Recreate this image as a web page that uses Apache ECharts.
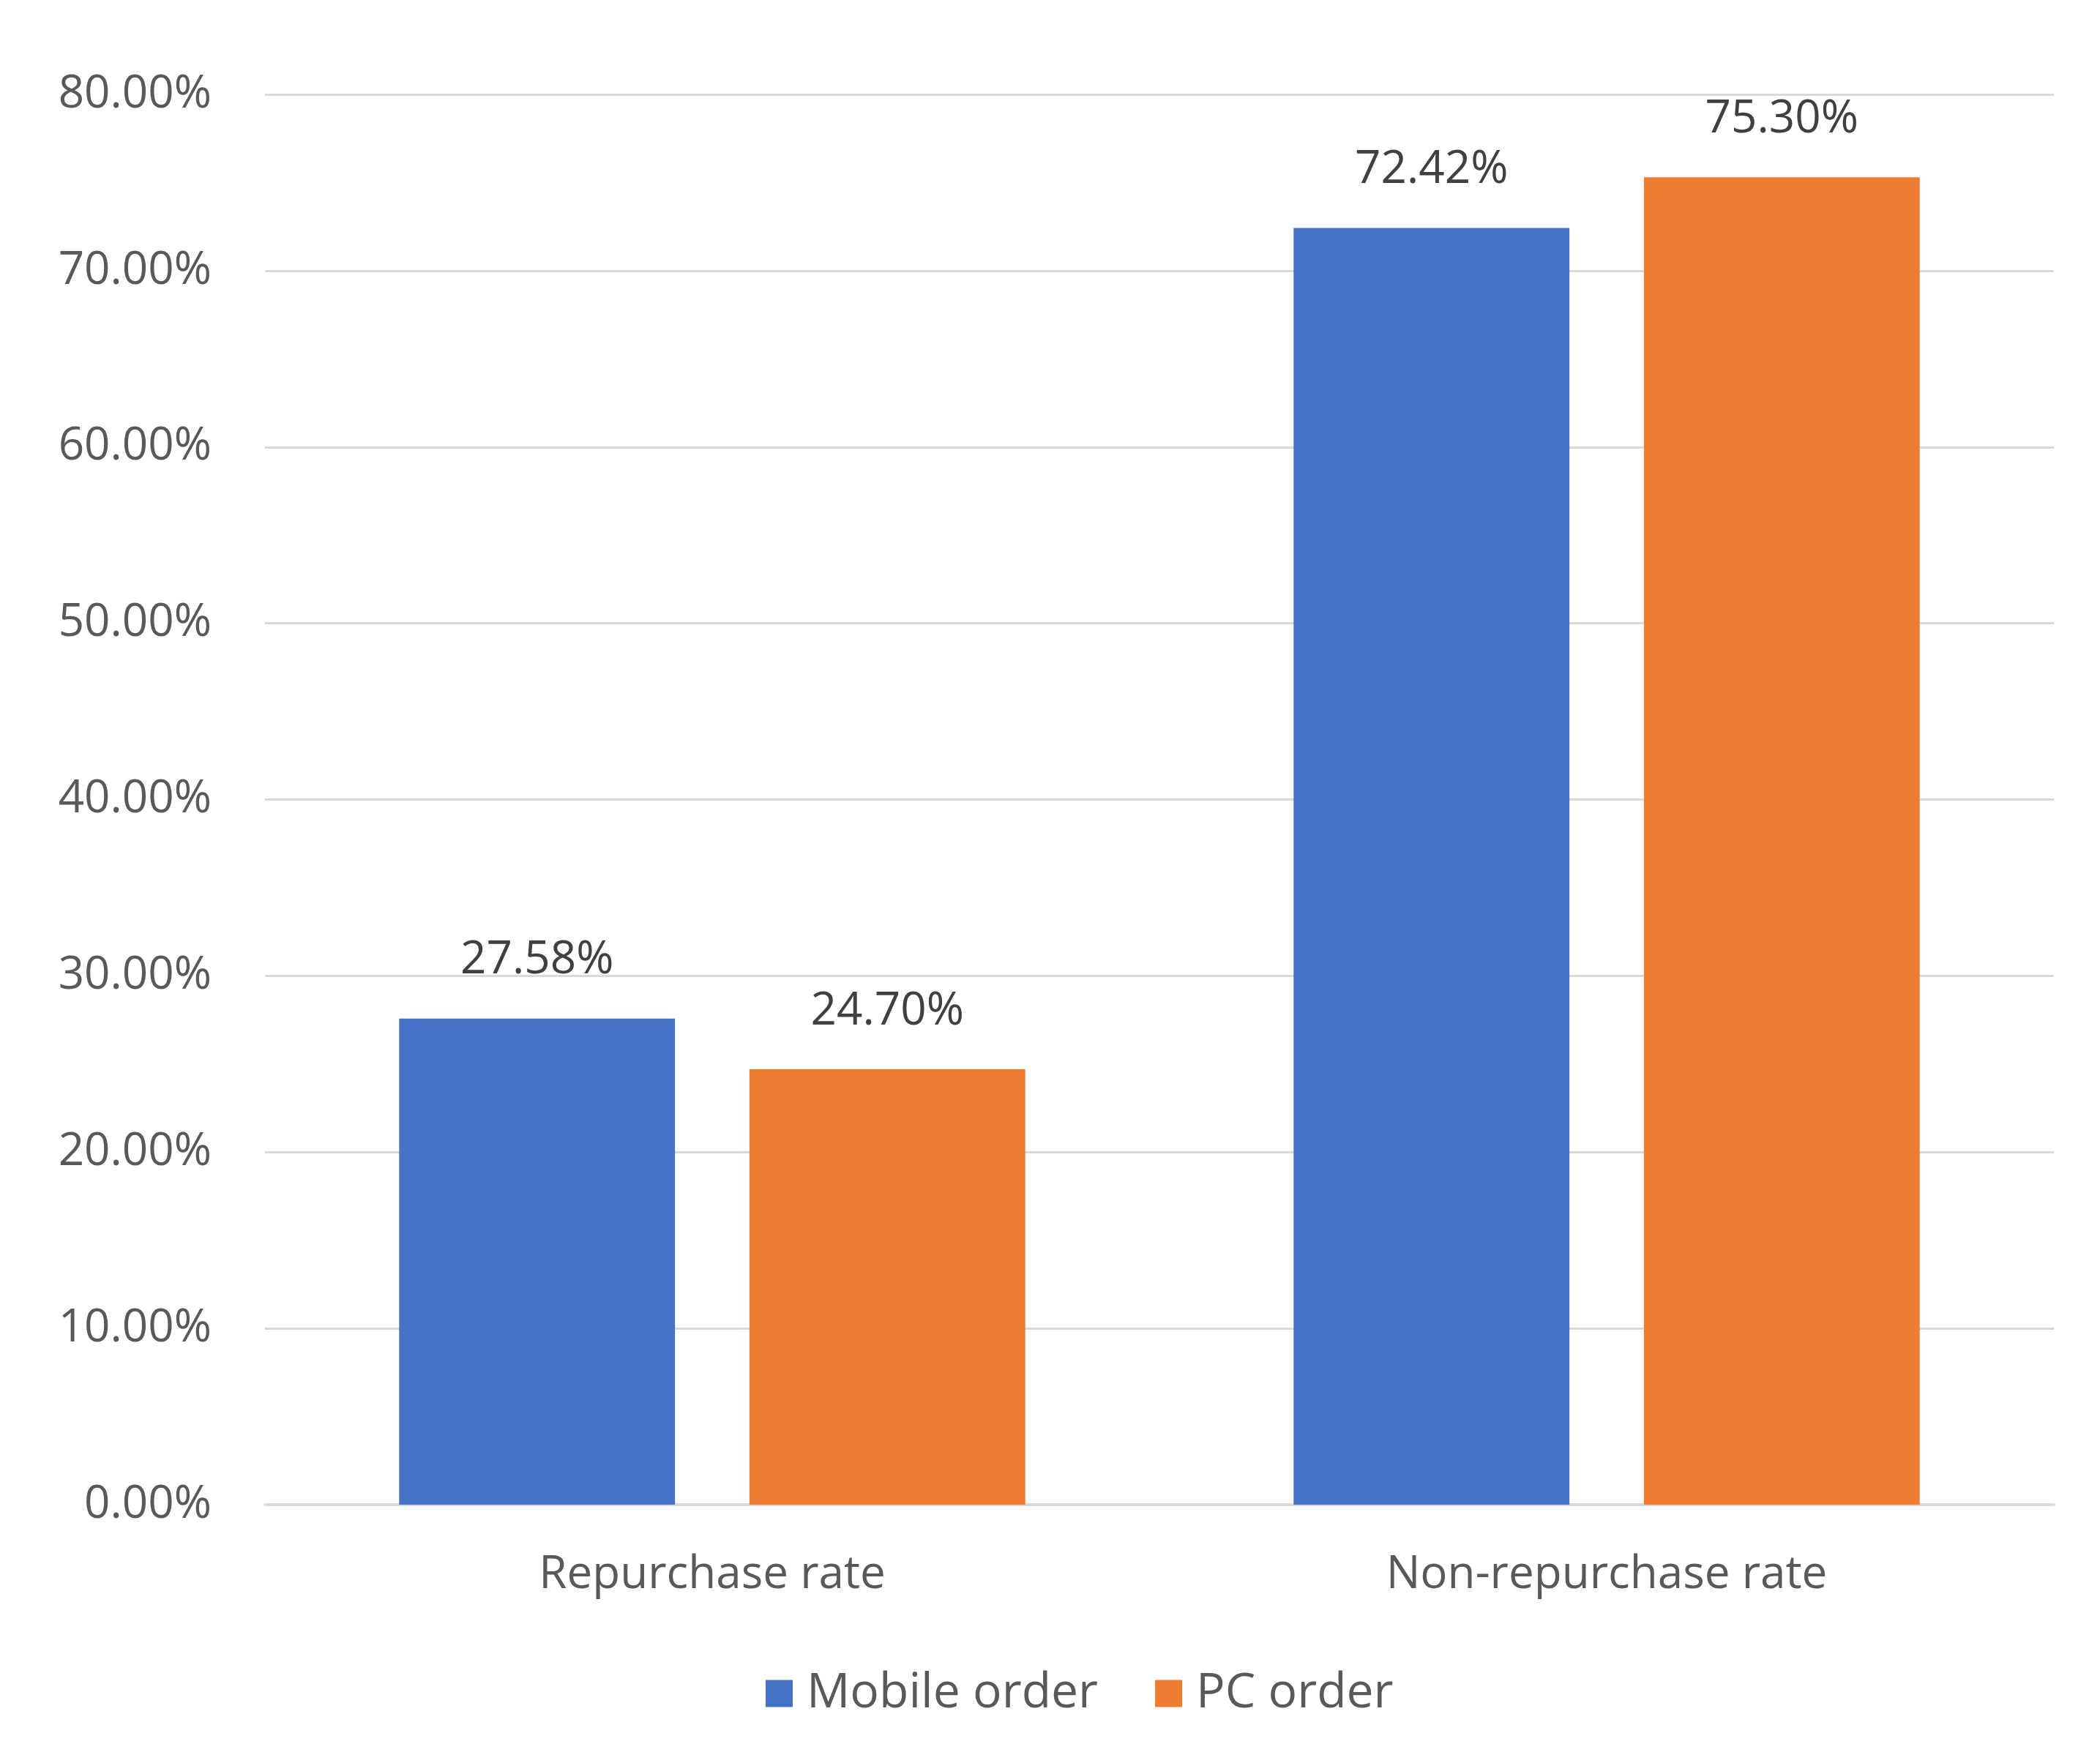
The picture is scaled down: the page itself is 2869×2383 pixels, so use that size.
<!DOCTYPE html>
<html>
<head>
<meta charset="utf-8">
<script src="https://cdn.jsdelivr.net/npm/echarts@6/dist/echarts.min.js"></script>
<style>
html,body{margin:0;padding:0;background:#fff;}
#c{width:2869px;height:2383px;}
</style>
</head>
<body>
<div id="c"></div>
<script>
const categories = ['Repurchase rate', 'Non-repurchase rate'];
const seriesNames = ['Mobile order', 'PC order'];
const mobileValues = [27.58, 72.42];
const pcValues = [24.70, 75.30];
const yTicks = { min: 0, max: 80, interval: 10 };

const FONT = 'Open Sans';
const chart = echarts.init(document.getElementById('c'), null, { renderer: 'canvas' });
const labelStyle = {
  show: true, position: 'top', distance: 48,
  fontFamily: FONT, fontSize: 62, color: '#404040',
  formatter: p => p.value.toFixed(2) + '%'
};
chart.setOption({
  animation: false,
  backgroundColor: '#ffffff',
  grid: { left: 362, right: 63, top: 129, bottom: 327, containLabel: false },
  legend: {
    data: seriesNames,
    left: 1041, top: 2276,
    itemWidth: 37, itemHeight: 37, itemGap: 78,
    icon: 'rect',
    textStyle: { fontFamily: FONT, fontSize: 66, color: '#595959', padding: [0, 0, 0, 14] }
  },
  xAxis: {
    type: 'category', data: categories,
    axisLine: { show: true, lineStyle: { color: '#d9d9d9', width: 4 } },
    axisTick: { show: false },
    axisLabel: { fontFamily: FONT, fontSize: 62, color: '#595959', margin: 65 }
  },
  yAxis: {
    type: 'value', min: yTicks.min, max: yTicks.max, interval: yTicks.interval,
    axisLine: { show: false }, axisTick: { show: false },
    splitLine: { lineStyle: { color: '#d9d9d9', width: 3 } },
    axisLabel: { fontFamily: FONT, fontSize: 62, color: '#595959', margin: 73,
      formatter: v => v.toFixed(2) + '%' }
  },
  series: [
    { name: seriesNames[0], type: 'bar', data: mobileValues, barGap: '27%', barCategoryGap: '30%',
      itemStyle: { color: '#4472C4' }, label: labelStyle },
    { name: seriesNames[1], type: 'bar', data: pcValues,
      itemStyle: { color: '#ED7D31' }, label: labelStyle }
  ]
});
</script>
</body>
</html>
